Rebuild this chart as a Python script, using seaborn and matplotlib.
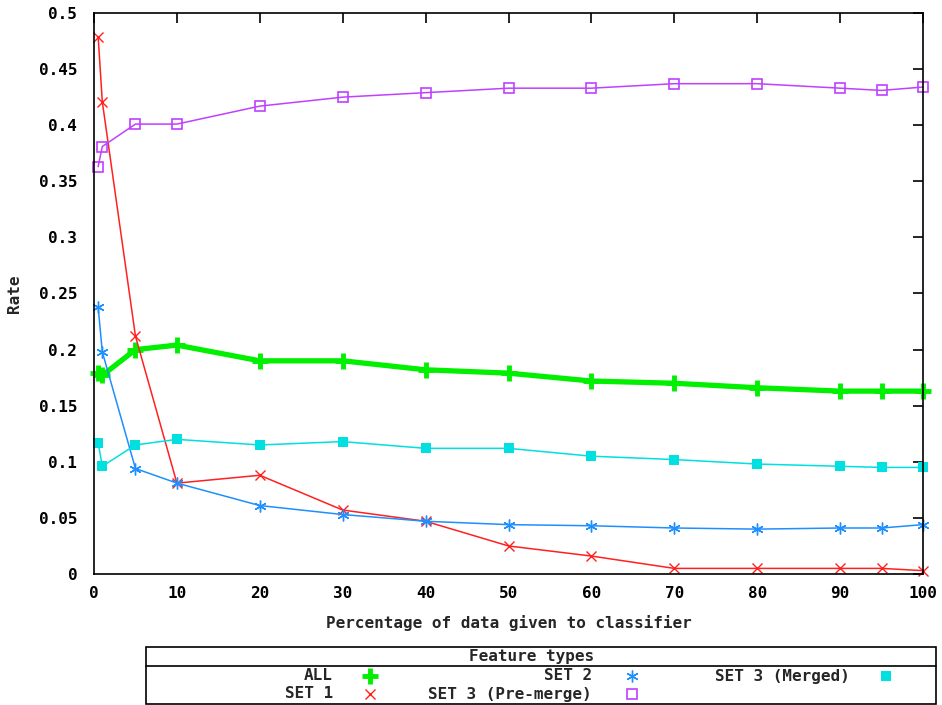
import matplotlib
matplotlib.use("Agg")
import matplotlib.pyplot as plt
from matplotlib.lines import Line2D
from matplotlib.patches import Rectangle
import seaborn as sns
import pandas as pd

sns.set_style("white")
plt.rcParams['font.family'] = ['DejaVu Sans Mono', 'DejaVu Sans']
plt.rcParams['font.weight'] = 'bold'

x_pct = [0.5, 1, 5, 10, 20, 30, 40, 50, 60, 70, 80, 90, 95, 100]
all_feat = [0.179, 0.177, 0.200, 0.204, 0.190, 0.190, 0.182, 0.179, 0.172, 0.170, 0.166, 0.163, 0.163, 0.163]
set1 = [0.479, 0.421, 0.212, 0.081, 0.088, 0.057, 0.047, 0.025, 0.016, 0.005, 0.005, 0.005, 0.005, 0.003]
set2 = [0.238, 0.198, 0.094, 0.081, 0.061, 0.053, 0.047, 0.044, 0.043, 0.041, 0.040, 0.041, 0.041, 0.044]
set3_pre = [0.363, 0.381, 0.401, 0.401, 0.417, 0.425, 0.429, 0.433, 0.433, 0.437, 0.437, 0.433, 0.431, 0.434]
set3_merged = [0.117, 0.096, 0.115, 0.120, 0.115, 0.118, 0.112, 0.112, 0.105, 0.102, 0.098, 0.096, 0.095, 0.095]

series_names = ["ALL", "SET 1", "SET 2", "SET 3 (Pre-merge)", "SET 3 (Merged)"]
series_vals = [all_feat, set1, set2, set3_pre, set3_merged]

x_ticks = [0, 10, 20, 30, 40, 50, 60, 70, 80, 90, 100]
y_ticks = [0, 0.05, 0.1, 0.15, 0.2, 0.25, 0.3, 0.35, 0.4, 0.45, 0.5]
y_tick_labels = ["0", "0.05", "0.1", "0.15", "0.2", "0.25", "0.3", "0.35", "0.4", "0.45", "0.5"]

colors = {"ALL": "#00f000", "SET 1": "#ff2020", "SET 2": "#1e8fff",
          "SET 3 (Pre-merge)": "#c040ff", "SET 3 (Merged)": "#00e0e0"}
asterisk = (6, 2, 0)
styles = {
    "ALL": dict(lw=3.8, marker="+", ms=11, mew=3.5, mfc="none"),
    "SET 1": dict(lw=1.1, marker="x", ms=7.5, mew=1.0, mfc="none"),
    "SET 2": dict(lw=1.1, marker=asterisk, ms=8.5, mew=1.0, mfc="none"),
    "SET 3 (Pre-merge)": dict(lw=1.1, marker="s", ms=7.5, mew=1.2, mfc="none"),
    "SET 3 (Merged)": dict(lw=1.1, marker="s", ms=7, mew=0, mfc=None),
}

fig = plt.figure(figsize=(9.42, 7.05), dpi=100)
ax = fig.add_axes([94/942, 1-574/705, (923-94)/942, (574-13)/705])

for name, vals in zip(series_names, series_vals):
    df = pd.DataFrame({"x": x_pct, "y": vals})
    st = styles[name]
    c = colors[name]
    kw = dict(marker=st["marker"], markersize=st["ms"], markeredgewidth=st["mew"],
              markeredgecolor=c)
    kw["markerfacecolor"] = c if st["mfc"] is None else "none"
    sns.lineplot(data=df, x="x", y="y", ax=ax, color=c, linewidth=st["lw"],
                 legend=False, clip_on=False, **kw)

ax.set_xlim(0, 100)
ax.set_ylim(0, 0.5)
ax.set_xticks(x_ticks)
ax.set_xticklabels([str(t) for t in x_ticks])
ax.set_yticks(y_ticks)
ax.set_yticklabels(y_tick_labels)
ax.tick_params(direction="in", length=7, width=1.2, top=True, right=True,
               labelsize=11.5, colors="black")
ax.tick_params(axis="y", pad=12)
ax.tick_params(axis="x", pad=9)
for lab in ax.get_xticklabels() + ax.get_yticklabels():
    lab.set_fontweight("bold")
for s in ax.spines.values():
    s.set_visible(True)
    s.set_color("black")
    s.set_linewidth(1.2)
ax.set_xlabel("Percentage of data given to classifier", fontsize=11.5,
              fontweight="bold", labelpad=10)
ax.set_ylabel("Rate", fontsize=11.5, fontweight="bold", labelpad=12)
ax.grid(False)

# Legend box (gnuplot style)
def fx(px):
    return px / 942
def fy(py):
    return 1 - py / 705

box = Rectangle((fx(146), fy(704)), fx(936) - fx(146), fy(647) - fy(704),
                transform=fig.transFigure, fill=False, edgecolor="black", lw=1.2)
fig.add_artist(box)
fig.add_artist(Line2D([fx(146), fx(936)], [fy(666), fy(666)],
                      transform=fig.transFigure, color="black", lw=1.2))
fig.text(fx(532), fy(657), "Feature types", ha="center", va="center",
         fontsize=11.5, fontweight="bold")

leg_pos = {
    "ALL": (333, 370, 676),
    "SET 1": (333, 370, 694),
    "SET 2": (592, 632, 676),
    "SET 3 (Pre-merge)": (592, 632, 694),
    "SET 3 (Merged)": (850, 886, 676),
}
for name in series_names:
    tx, mx, yy = leg_pos[name]
    fig.text(fx(tx), fy(yy), name, ha="right", va="center", fontsize=11.5,
             fontweight="bold")
    st = styles[name]
    c = colors[name]
    fig.add_artist(Line2D([fx(mx)], [fy(yy)], transform=fig.transFigure,
                          linestyle="none", marker=st["marker"],
                          markersize=st["ms"], markeredgewidth=st["mew"],
                          markeredgecolor=c,
                          markerfacecolor=(c if st["mfc"] is None else "none")))

fig.savefig("out.png", dpi=100)
